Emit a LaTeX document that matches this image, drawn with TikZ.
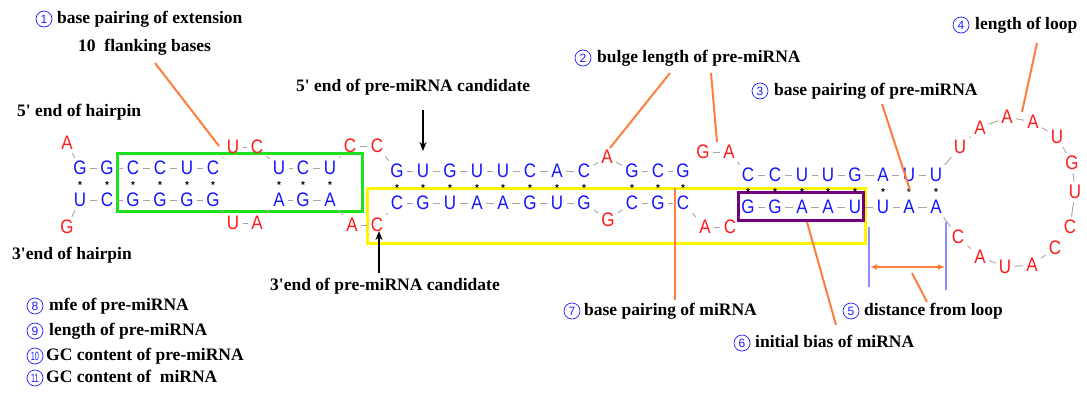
\documentclass[tikz,border=0pt]{standalone}
\usepackage{fontspec}
\setmainfont{Liberation Serif}
\newfontfamily\basefont{Liberation Sans}
\usetikzlibrary{arrows.meta,calc}
\definecolor{nblue}{RGB}{20,20,255}
\definecolor{nred}{RGB}{255,25,25}
\definecolor{bbone}{RGB}{165,165,165}
\definecolor{lead}{RGB}{255,125,60}
\definecolor{boxgreen}{RGB}{30,225,30}
\definecolor{boxyellow}{RGB}{255,245,0}
\definecolor{boxpurple}{RGB}{115,0,125}
\definecolor{tickblue}{RGB}{140,140,255}
\definecolor{numblue}{RGB}{30,30,255}
\newcommand{\tallbase}[1]{\scalebox{1}[1.15]{#1}}

\begin{document}
\begin{tikzpicture}[x=1pt,y=-1pt,
  nt/.style={inner sep=3.2pt,font=\basefont\fontsize{17}{17}\selectfont},
  pb/.style={nt,text=nblue},
  ub/.style={nt,text=nred},
  backbone/.style={draw=bbone,line width=0.9pt},
  pairmark/.style={inner sep=0pt,font=\basefont\bfseries\fontsize{10}{10}\selectfont},
  label/.style={anchor=west,inner sep=0pt,font=\bfseries\fontsize{17.5}{20}\selectfont,text height=12pt,text depth=4pt},
  cnum/.style={circle,draw=numblue,text=numblue,line width=0.7pt,minimum size=16pt,inner sep=0pt,font=\basefont\fontsize{12}{12}\selectfont},
  leader/.style={draw=lead,line width=2pt},
  ptr/.style={draw=black,line width=2pt,-{Stealth[length=9pt,width=7pt]}},
  frame/.style={line width=3pt}]

\useasboundingbox (0,0) rectangle (1087,394);

% feature frames
\draw[frame,draw=boxgreen] (117,153) rectangle (362,211);
\draw[frame,draw=boxyellow] (367,188) rectangle (865,243);
\draw[frame,draw=boxpurple] (738,192) rectangle (863,220);

% hairpin sequence, 5' to 3'
\foreach \i/\x/\y/\s/\b in {
  1/67/143/ub/A, 2/80/168/pb/G, 3/107/168/pb/G, 4/133/168/pb/C, 5/160/168/pb/C,
  6/187/168/pb/U, 7/213/168/pb/C, 8/233/147/ub/U, 9/257/147/ub/C, 10/279/168/pb/U,
  11/303/168/pb/C, 12/330/168/pb/U, 13/350/146/ub/C, 14/377/146/ub/C, 15/397/171/pb/G,
  16/423/171/pb/U, 17/450/171/pb/G, 18/477/171/pb/U, 19/503/171/pb/U, 20/530/171/pb/C,
  21/557/171/pb/A, 22/584/171/pb/C, 23/607/157/ub/A, 24/632/171/pb/G, 25/658/171/pb/C,
  26/683/171/pb/G, 27/703/152/ub/G, 28/729/152/ub/A, 29/748/175/pb/C, 30/775/175/pb/C,
  31/802/175/pb/U, 32/828/175/pb/U, 33/855/175/pb/G, 34/883/175/pb/A, 35/909/175/pb/U,
  36/936/175/pb/U, 37/960/147/ub/U, 38/980/128/ub/A, 39/1007/117/ub/A, 40/1033/122/ub/A,
  41/1057/137/ub/U, 42/1072/163/ub/G, 43/1075/192/ub/U, 44/1070/227/ub/C, 45/1055/248/ub/C,
  46/1032/265/ub/A, 47/1005/267/ub/U, 48/980/257/ub/A, 49/958/237/ub/C, 50/936/207/pb/A,
  51/909/207/pb/A, 52/883/207/pb/U, 53/855/207/pb/U, 54/828/207/pb/A, 55/802/207/pb/A,
  56/775/207/pb/G, 57/748/207/pb/G, 58/730/227/ub/C, 59/705/227/ub/A, 60/683/203/pb/C,
  61/658/203/pb/G, 62/632/203/pb/C, 63/608/220/ub/G, 64/584/203/pb/G, 65/557/203/pb/U,
  66/530/203/pb/G, 67/503/203/pb/A, 68/477/203/pb/A, 69/450/203/pb/U, 70/423/203/pb/G,
  71/397/203/pb/C, 72/377/225/ub/C, 73/352/225/ub/A, 74/330/200/pb/A, 75/303/200/pb/G,
  76/279/200/pb/A, 77/257/223/ub/A, 78/233/223/ub/U, 79/213/200/pb/G, 80/187/200/pb/G,
  81/160/200/pb/G, 82/133/200/pb/G, 83/107/200/pb/C, 84/80/200/pb/U, 85/67/227/ub/G}
  \node[\s] (n\i) at (\x,\y) {\tallbase{\b}};

% backbone
\foreach \i [evaluate=\i as \j using int(\i+1)] in {1,...,84}
  \draw[backbone] (n\i) -- (n\j);

% base pair marks
\foreach \a/\b in {2/84,3/83,4/82,5/81,6/80,7/79,10/76,11/75,12/74,
  15/71,16/70,17/69,18/68,19/67,20/66,21/65,22/64,24/62,25/61,26/60,
  29/57,30/56,31/55,32/54,33/53,34/52,35/51,36/50}
  \node[pairmark] (pm\a) at ($(n\a)!0.53!(n\b)$) {*};

% text labels
\node[cnum] (c1) at (44,19) {1};
\node[label] (t1) at (57,19) {base pairing of extension};
\node[label] (t1b) at (78,47) {10\ \ flanking bases};
\node[label] (h5) at (17,112) {5\textquotesingle{} end of hairpin};
\node[label] (h3) at (12,255) {3\textquotesingle end of hairpin};
\node[label] (p5) at (296,87) {5\textquotesingle{} end of pre-miRNA candidate};
\node[label] (p3) at (270,286) {3\textquotesingle end of pre-miRNA candidate};
\node[cnum] (c2) at (583,58) {2};
\node[label] (t2) at (597,58) {bulge length of pre-miRNA};
\node[cnum] (c3) at (760,91) {3};
\node[label] (t3) at (774,91) {base pairing of pre-miRNA};
\node[cnum] (c4) at (961,25) {4};
\node[label] (t4) at (975,25) {length of loop};
\node[cnum] (c5) at (851,311) {5};
\node[label] (t5) at (864,311) {distance from loop};
\node[cnum] (c6) at (742,343) {6};
\node[label] (t6) at (755,343) {initial bias of miRNA};
\node[cnum] (c7) at (572,311) {7};
\node[label] (t7) at (584,311) {base pairing of miRNA};
\node[cnum] (c8) at (35,306) {8};
\node[label] (t8) at (49,306) {mfe of pre-miRNA};
\node[cnum] (c9) at (35,331) {9};
\node[label] (t9) at (49,331) {length of pre-miRNA};
\node[cnum] (c10) at (35,356) {\scalebox{0.62}[1]{10}};
\node[label] (t10) at (46,356) {GC content of pre-miRNA};
\node[cnum] (c11) at (35,378) {\scalebox{0.62}[1]{11}};
\node[label] (t11) at (46,378) {GC content of\ \ miRNA};

% leader line ends
\coordinate (a1) at (155,63);   \coordinate (b1) at (219,146);
\coordinate (a2) at (670,73);   \coordinate (b2) at (610,148);
\coordinate (a2b) at (711,73);  \coordinate (b2b) at (717,142);
\coordinate (a3) at (882,104);  \coordinate (b3) at (910,190);
\coordinate (a4) at (1037,43);  \coordinate (b4) at (1022,112);
\coordinate (a5) at (927,302);  \coordinate (b5) at (912,273);
\coordinate (a6) at (836,325);  \coordinate (b6) at (807,222);
\coordinate (a7) at (675,300);  \coordinate (b7) at (675,188);
\foreach \k in {1,2,2b,3,4,5,6,7}
  \draw[leader] (a\k) -- (b\k);

% distance from loop
\coordinate (d1t) at (869,227); \coordinate (d1b) at (869,287);
\coordinate (d2t) at (946,222); \coordinate (d2b) at (946,290);
\draw[tickblue,line width=1.5pt] (d1t) -- (d1b);
\draw[tickblue,line width=1.5pt] (d2t) -- (d2b);
\coordinate (dl) at (870,267); \coordinate (dr) at (945,267);
\draw[lead,line width=2pt,{Latex[length=7pt,width=6pt]}-{Latex[length=7pt,width=6pt]}] (dl) -- (dr);

% pre-miRNA candidate ends
\coordinate (u5) at (423,110); \coordinate (v5) at (423,151);
\draw[ptr] (u5) -- (v5);
\coordinate (u3) at (379,273); \coordinate (v3) at (379,231);
\draw[ptr] (u3) -- (v3);
\end{tikzpicture}
\end{document}
